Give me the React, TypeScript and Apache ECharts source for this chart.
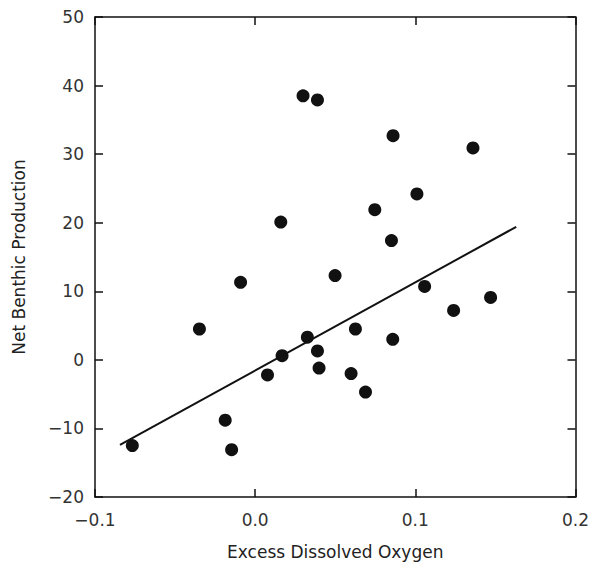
import React, { useEffect, useRef } from "react";
import * as echarts from "echarts";

const pointsX = [
  -0.0767, -0.0348, -0.0187, -0.0147, -0.0091, 0.0077, 0.016, 0.0168, 0.0299, 0.0389,
  0.0326, 0.0389, 0.0399, 0.0499, 0.0599, 0.0626, 0.0689, 0.0747, 0.0861, 0.0851,
  0.0859, 0.101, 0.1058, 0.1239, 0.136, 0.147,
];
const pointsY = [
  -12.5, 4.5, -8.8, -13.1, 11.3, -2.2, 20.1, 0.6, 38.5, 37.9,
  3.3, 1.3, -1.2, 12.3, -2.0, 4.5, -4.7, 21.9, 32.7, 17.4,
  3.0, 24.2, 10.7, 7.2, 30.9, 9.1,
];
const fitX = [-0.0844, 0.163];
const fitY = [-12.4, 19.4];

const xTitle = "Excess Dissolved Oxygen";
const yTitle = "Net Benthic Production";

const fmt = (v: number, d: number) => {
  const s = (Math.abs(v) < 1e-9 ? 0 : v).toFixed(d);
  return s.replace("-", "\u2212");
};

export default function App() {
  const ref = useRef<HTMLDivElement>(null);
  useEffect(() => {
    if (!ref.current) return;
    const chart = echarts.init(ref.current, undefined, { renderer: "svg" });
    const font = "DejaVu Sans";
    const lineStyle = { color: "#111", width: 1.5 };
    const baseX = {
      type: "value" as const,
      min: -0.1,
      max: 0.2,
      interval: 0.1,
      splitLine: { show: false },
      axisLine: { show: true, onZero: false, lineStyle },
      axisTick: { show: true, inside: true, length: 8, lineStyle },
    };
    const baseY = {
      type: "value" as const,
      min: -20,
      max: 50,
      interval: 10,
      splitLine: { show: false },
      axisLine: { show: true, onZero: false, lineStyle },
      axisTick: { show: true, inside: true, length: 8, lineStyle },
    };
    chart.setOption({
      animation: false,
      backgroundColor: "#fff",
      grid: { left: 95, right: 16, top: 17, bottom: 70 },
      xAxis: [
        {
          ...baseX,
          position: "bottom",
          name: xTitle,
          nameLocation: "middle",
          nameGap: 46,
          nameTextStyle: { fontFamily: font, fontSize: 17, color: "#222" },
          axisLabel: {
            margin: 14,
            fontFamily: font,
            fontSize: 17,
            color: "#333",
            formatter: (v: number) => fmt(v, 1),
          },
        },
        { ...baseX, position: "top", axisLabel: { show: false } },
      ],
      yAxis: [
        {
          ...baseY,
          position: "left",
          name: yTitle,
          nameLocation: "middle",
          nameGap: 68,
          nameRotate: 90,
          nameTextStyle: { fontFamily: font, fontSize: 17, color: "#222" },
          axisLabel: {
            margin: 11,
            fontFamily: font,
            fontSize: 17,
            color: "#333",
            formatter: (v: number) => fmt(v, 0),
          },
        },
        { ...baseY, position: "right", axisLabel: { show: false } },
      ],
      series: [
        {
          type: "scatter",
          xAxisIndex: 0,
          yAxisIndex: 0,
          symbol: "circle",
          symbolSize: 13,
          itemStyle: { color: "#111", opacity: 1 },
          data: pointsX.map((x, i) => [x, pointsY[i]]),
        },
        {
          type: "line",
          xAxisIndex: 0,
          yAxisIndex: 0,
          symbol: "none",
          lineStyle: { color: "#111", width: 2 },
          data: fitX.map((x, i) => [x, fitY[i]]),
        },
      ],
    });
    return () => chart.dispose();
  }, []);
  return <div ref={ref} style={{ width: 592, height: 567, position: "absolute", left: 0, top: 0 }} />;
}
